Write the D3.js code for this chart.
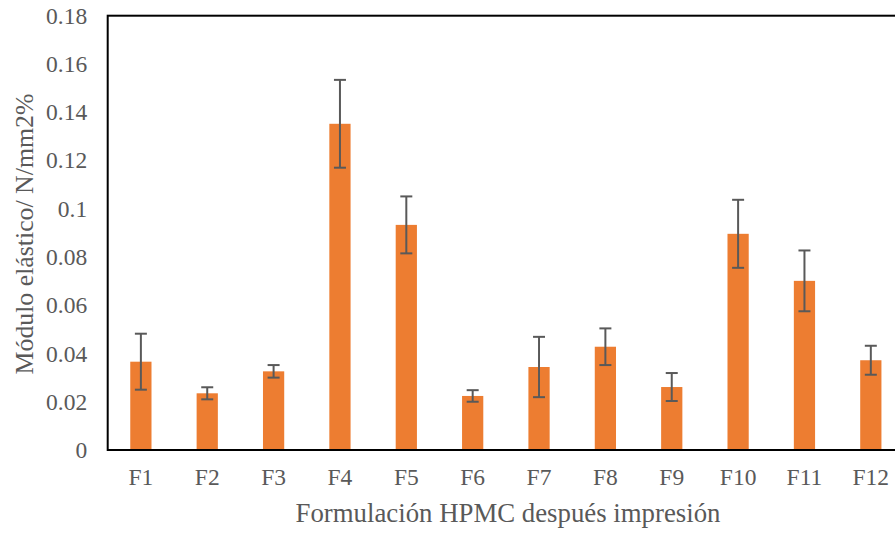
<!DOCTYPE html>
<html><head><meta charset="utf-8">
<script src="https://cdn.jsdelivr.net/npm/d3@7"></script>
<style>body{margin:0;background:#fff;overflow:hidden}svg{display:block}
svg text{font-family:"Liberation Serif","Times New Roman",Times,Tinos,"DejaVu Serif",serif;}</style>
</head><body>
<script>
const categories = ["F1","F2","F3","F4","F5","F6","F7","F8","F9","F10","F11","F12"];
const values = [0.0366,0.0235,0.0326,0.1352,0.0933,0.0224,0.0344,0.0428,0.0261,0.0896,0.0701,0.0372];
const errors = [0.0116,0.0025,0.0026,0.0182,0.0118,0.0024,0.0125,0.0076,0.0058,0.0141,0.0126,0.0060];
const yTicks = [0,0.02,0.04,0.06,0.08,0.1,0.12,0.14,0.16,0.18];
const xTitle = "Formulación HPMC después impresión";
const yTitle = "Módulo elástico/ N/mm2%";

const W = 895, H = 533;
const m = {left:107.7, top:15.7, right:904, bottom:450};
const svg = d3.select("body").append("svg").attr("width",W).attr("height",H);
const x = d3.scaleBand().domain(categories).range([m.left,m.right]).paddingInner(0.68).paddingOuter(0.34);
const y = d3.scaleLinear().domain([0,0.18]).range([m.bottom,m.top]);
const grey = "#595959";

svg.selectAll("rect.bar").data(values).join("rect").attr("class","bar")
  .attr("x",(d,i)=>x(categories[i])).attr("width",x.bandwidth())
  .attr("y",d=>y(d)).attr("height",d=>y(0)-y(d)).attr("fill","#ED7D31");

const eg = svg.append("g").attr("stroke",grey).attr("stroke-width",2);
values.forEach((v,i)=>{
  const cx = x(categories[i]) + x.bandwidth()/2;
  const t = y(v+errors[i]), b = y(v-errors[i]);
  eg.append("line").attr("x1",cx).attr("x2",cx).attr("y1",t).attr("y2",b);
  eg.append("line").attr("x1",cx-6).attr("x2",cx+6).attr("y1",t).attr("y2",t);
  eg.append("line").attr("x1",cx-6).attr("x2",cx+6).attr("y1",b).attr("y2",b);
});

svg.append("rect").attr("x",m.left).attr("y",m.top).attr("width",m.right-m.left).attr("height",m.bottom-m.top)
  .attr("fill","none").attr("stroke","#000").attr("stroke-width",2);

const ya = svg.append("g").attr("transform",`translate(${m.left},0)`)
  .call(d3.axisLeft(y).tickValues(yTicks).tickSize(0).tickPadding(20.5).tickFormat(d=>d===0?"0":String(+d.toFixed(2))));
ya.select(".domain").remove();
ya.attr("font-family",null);
ya.selectAll("text").attr("font-size",23.5).attr("fill",grey);

const xa = svg.append("g").attr("transform",`translate(0,${m.bottom})`)
  .call(d3.axisBottom(x).tickSize(0).tickPadding(18));
xa.select(".domain").remove();
xa.attr("font-family",null);
xa.selectAll("text").attr("font-size",23.5).attr("fill",grey);

svg.append("text").attr("x",508).attr("y",522).attr("text-anchor","middle")
  .attr("font-size",26.8).attr("fill",grey).text(xTitle);
svg.append("text").attr("transform","translate(33,234) rotate(-90)").attr("text-anchor","middle")
  .attr("font-size",25.8).attr("fill",grey).text(yTitle);
</script>
</body></html>
